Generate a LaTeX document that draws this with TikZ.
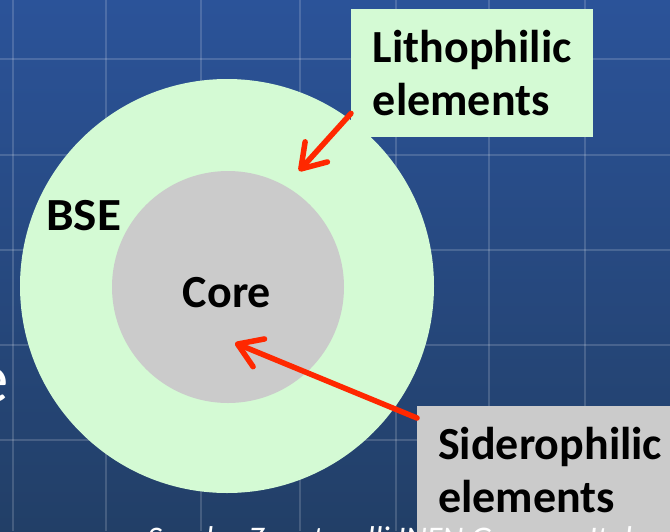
\documentclass[tikz,border=0pt]{standalone}
\usepackage{fontspec}
\setmainfont{Carlito}
\usetikzlibrary{arrows.meta}
\definecolor{bgtop}{RGB}{43,83,153}
\definecolor{bgbot}{RGB}{34,63,103}
\definecolor{bsegreen}{RGB}{212,250,212}
\definecolor{coregray}{RGB}{203,203,203}
\definecolor{arrred}{RGB}{255,40,0}
\tikzset{
  gridline/.style={draw=white, opacity=0.16, line width=2pt},
  lbl/.style={font=\fontsize{46}{53}\selectfont\bfseries, text=black, inner sep=0pt},
  labelbox/.style={lbl, align=left, inner xsep=21pt, inner ysep=0pt, minimum height=128pt, anchor=north west},
  redarrow/.style={draw=arrred, line width=5.5pt, line cap=round, -{Straight Barb[length=23pt,width=30pt,round]}},
  disc/.style={circle, inner sep=0pt, draw=none},
}
\begin{document}
\begin{tikzpicture}[x=1pt, y=-1pt]
  \useasboundingbox (0,0) rectangle (670,531);
  \clip (0,0) rectangle (670,531);
  % background
  \shade[top color=bgtop, bottom color=bgbot] (0,0) rectangle (670,531);
  % grid
  \foreach \gx in {13,106,201,300,396,489,585} \draw[gridline] (\gx,0) -- (\gx,531);
  \foreach \gy in {59,155,250,345,440} \draw[gridline] (0,\gy) -- (670,\gy);
  % circles
  \node[disc, fill=bsegreen, minimum size=414pt] (bse) at (227,286) {};
  \node[disc, fill=coregray, minimum size=232pt] (core) at (228,287) {};
  \node[lbl, anchor=base west] (bselabel) at (46,230) {\scalebox{1.07}[1]{BSE}};
  \node[lbl, anchor=base] (corelabel) at (227,307) {Core};
  % partial slide text at left
  \node[font=\fontsize{71}{80}\selectfont, text=white, inner sep=0pt, anchor=base east] (lefte) at (9.5,402) {e};
  % label boxes
  \node[labelbox, fill=bsegreen, minimum width=242pt] (lith) at (351,9) {Lithophilic\\elements};
  \node[labelbox, fill=coregray] (sid) at (417,406) {Siderophilic\\elements};
  % arrows
  \coordinate (lithtip) at (299,171);
  \coordinate (sidtip) at (235,343);
  \draw[redarrow] ([yshift=24pt]lith.south west) -- (lithtip);
  \draw[redarrow] ([yshift=-12pt]sid.north west) -- (sidtip);
  % credit line, cut by the bottom edge
  \node[font=\fontsize{33}{36}\selectfont\itshape, text=white, inner sep=0pt, anchor=base west] (credit) at (147,549) {Sandra Zavatarelli INFN Genova, Italy};
\end{tikzpicture}
\end{document}
